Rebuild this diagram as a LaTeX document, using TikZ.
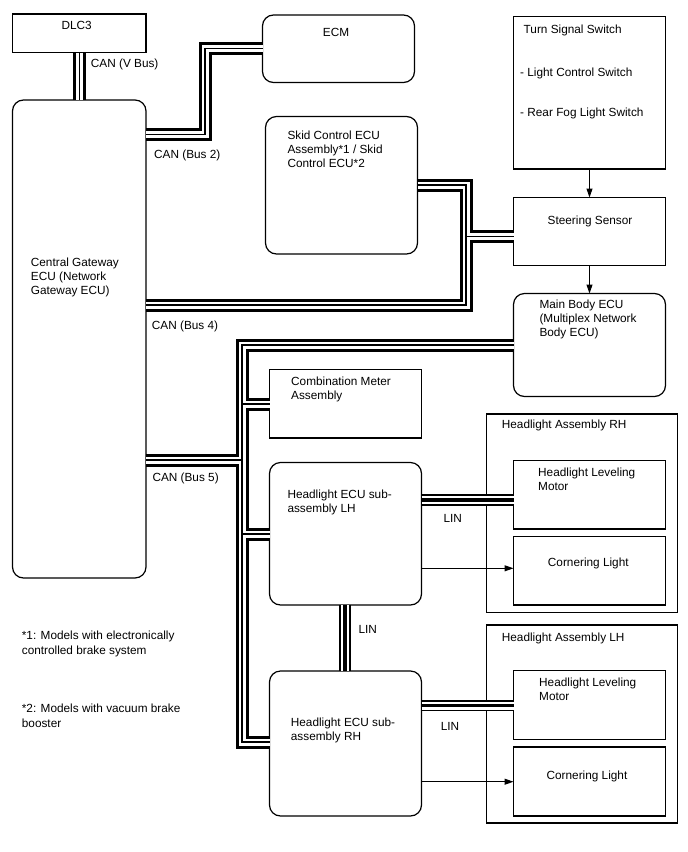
\documentclass[tikz,border=0pt]{standalone}
\usepackage{fontspec}
\setmainfont{Liberation Sans}
\usetikzlibrary{arrows.meta}
\newcommand\mlines[1]{\parbox[t]{200pt}{\raggedright #1}}
\tikzset{
  box/.style={draw, line width=1.2pt, inner sep=0pt, outer sep=0pt, anchor=north west},
  rbox/.style={box, rounded corners=11pt},
  txt/.style={anchor=base west, inner sep=0pt, font=\fontsize{11.8}{14}\selectfont},
  ctxt/.style={txt, anchor=base},
  busouter/.style={line width=13pt, black, line join=miter},
  businner/.style={line width=7pt, white, line join=miter},
  buscore/.style={line width=1.5pt, black, line join=miter},
  linouter/.style={line width=11.5pt, black},
  lininner/.style={line width=8pt, white},
  lincore/.style={line width=3.2pt, black},
  sig/.style={line width=1pt, -{Triangle[length=9pt,width=6pt]}}
}
\newcommand\canpaths[1]{%
  \draw[#1] (dlc.south) -- (gw.north);
  \draw[#1] (gw.east |- 0,134.5) -- (205,134.5) -- (205,48.5) -- (ecm.west |- 0,48.5);
  \draw[#1] (skid.east |- 0,185) -- (466,185) -- (466,236.5) -- (steer.west |- 0,236.5);
  \draw[#1] (gw.east |- 0,305) -- (466,305) -- (466,236.5);
  \draw[#1] (gw.east |- 0,460) -- (242,460) -- (242,345) -- (mbe.west |- 0,345);
  \draw[#1] (242,345) -- (242,742) -- (hlR.west |- 0,742);
  \draw[#1] (242,404) -- (cm.west |- 0,404);
  \draw[#1] (242,534) -- (hlL.west |- 0,534);
}
\newcommand\linpaths[1]{%
  \draw[#1] (hlL.east |- 0,500) -- (lmR.west |- 0,500);
  \draw[#1] (hlL.south -| 345,0) -- (hlR.north -| 345,0);
  \draw[#1] (hlR.east |- 0,705.5) -- (lmL.west |- 0,705.5);
}
\begin{document}
\begin{tikzpicture}[x=1pt,y=-1pt]
\useasboundingbox (0,0) rectangle (688,852);
\fill[white] (0,0) rectangle (688,852);

% boxes
\node[box,  minimum width=133.5pt, minimum height=38.5pt]  (dlc)   at (12.5,14) {};
\node[rbox, minimum width=133.5pt, minimum height=478pt]   (gw)    at (12.5,100) {};
\node[rbox, minimum width=152pt,   minimum height=67.5pt]  (ecm)   at (262.5,15) {};
\node[box,  minimum width=152pt,   minimum height=152.5pt] (tss)   at (513.5,16.5) {};
\node[rbox, minimum width=152pt,   minimum height=137.5pt] (skid)  at (265.5,116.5) {};
\node[box,  minimum width=152pt,   minimum height=68pt]    (steer) at (513.5,197.5) {};
\node[rbox, minimum width=152pt,   minimum height=103pt]   (mbe)   at (513.5,293.5) {};
\node[box,  minimum width=152pt,   minimum height=68.5pt]  (cm)    at (269.5,369.5) {};
\node[rbox, minimum width=152pt,   minimum height=142.5pt] (hlL)   at (269.5,462.5) {};
\node[box,  minimum width=191pt,   minimum height=198.5pt] (haR)   at (486.5,414) {};
\node[box,  minimum width=152pt,   minimum height=68.5pt]  (lmR)   at (513.5,460.5) {};
\node[box,  minimum width=152pt,   minimum height=68.5pt]  (clR)   at (513.5,536.5) {};
\node[rbox, minimum width=152pt,   minimum height=145pt]   (hlR)   at (269.5,671) {};
\node[box,  minimum width=191pt,   minimum height=198pt]   (haL)   at (486.5,625) {};
\node[box,  minimum width=152pt,   minimum height=69pt]    (lmL)   at (513.5,670.5) {};
\node[box,  minimum width=152pt,   minimum height=69pt]    (clL)   at (513.5,747) {};

% buses
\canpaths{busouter}
\canpaths{businner}
\canpaths{buscore}
\linpaths{linouter}
\linpaths{lininner}
\linpaths{lincore}

% signal arrows
\draw[sig] (tss.south) -- (steer.north);
\draw[sig] (steer.south) -- (mbe.north);
\draw[sig] (hlL.east |- 0,568.3) -- (clR.west |- 0,568.3);
\draw[sig] (hlR.east |- 0,781.7) -- (clL.west |- 0,781.7);

% texts
\node[ctxt] (tdlc) at (76.7,29.5) {DLC3};
\node[txt] (tvbus) at (90.7,67.5) {CAN (V Bus)};
\node[ctxt] (tecm) at (336,36) {ECM};
\node[txt] (tbus2) at (154,158.5) {CAN (Bus 2)};
\node[txt] (ttss1) at (523.5,33.3) {Turn Signal Switch};
\node[txt] (ttss2) at (520,76) {- Light Control Switch};
\node[txt] (ttss3) at (520,116.7) {- Rear Fog Light Switch};
\node[txt] (tskid) at (287.3,139) {\mlines{Skid Control ECU\\Assembly*1 / Skid\\Control ECU*2}};
\node[ctxt] (tsteer) at (590,224) {Steering Sensor};
\node[txt] (tgw) at (30.7,266.7) {\mlines{Central Gateway\\ECU (Network\\Gateway ECU)}};
\node[txt] (tbus4) at (151.7,329) {CAN (Bus 4)};
\node[txt] (tmbe) at (539.3,308.3) {\mlines{Main Body ECU\\(Multiplex Network\\Body ECU)}};
\node[txt] (tcm) at (291,385) {\mlines{Combination Meter\\Assembly}};
\node[txt] (thaR) at (501.7,428.3) {Headlight Assembly RH};
\node[txt] (tbus5) at (152.3,481.7) {CAN (Bus 5)};
\node[txt] (tlmR) at (538,476) {\mlines{Headlight Leveling\\Motor}};
\node[txt] (thlL) at (287.3,498.3) {\mlines{Headlight ECU sub-\\assembly LH}};
\node[txt] (tlin1) at (443.3,522.7) {LIN};
\node[ctxt] (tclR) at (588.3,566.7) {Cornering Light};
\node[txt] (tlin2) at (358.3,633.3) {LIN};
\node[txt] (thaL) at (501.7,641.7) {Headlight Assembly LH};
\node[txt] (tlmL) at (539,686) {\mlines{Headlight Leveling\\Motor}};
\node[txt] (thlR) at (290.7,726.7) {\mlines{Headlight ECU sub-\\assembly RH}};
\node[txt] (tlin3) at (440.7,730) {LIN};
\node[ctxt] (tclL) at (587,779) {Cornering Light};
\node[txt] (tfn1) at (21.7,639) {\mlines{*1: Models with electronically\\[1pt]controlled brake system}};
\node[txt] (tfn2) at (21.7,712.7) {\mlines{*2: Models with vacuum brake\\[1pt]booster}};
\end{tikzpicture}
\end{document}
